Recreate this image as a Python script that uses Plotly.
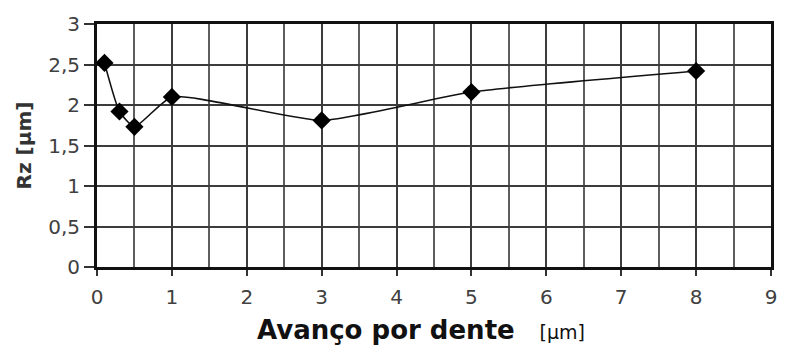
import plotly.graph_objects as go

# Feed per tooth [µm] vs roughness Rz [µm]
avanco = [0.1, 0.3, 0.5, 1, 3, 5, 8]
rz = [2.52, 1.92, 1.73, 2.10, 1.81, 2.16, 2.42]

x_ticks = [0, 1, 2, 3, 4, 5, 6, 7, 8, 9]
y_ticks = [0, 0.5, 1, 1.5, 2, 2.5, 3]

fig = go.Figure()

fig.add_trace(go.Scatter(
    x=avanco, y=rz, mode="lines+markers",
    line=dict(color="#111111", width=1.6, shape="spline", smoothing=0.5),
    marker=dict(symbol="diamond", size=14, color="#000000"),
    showlegend=False,
))

grid_col = "#3c3c3c"
tick_font = dict(family="DejaVu Sans, sans-serif", size=20, color="#404040")

fig.update_layout(
    width=785, height=349,
    margin=dict(l=97, r=8, t=24, b=82),
    paper_bgcolor="white", plot_bgcolor="white",
    separators=",.",
    font=dict(family="DejaVu Sans, sans-serif", color="#404040"),
    xaxis=dict(
        range=[0, 9], tickvals=x_ticks, ticks="outside", ticklen=6,
        tickcolor="#333333", tickwidth=2, ticklabelstandoff=4,
        showgrid=True, gridcolor=grid_col, gridwidth=2,
        minor=dict(dtick=0.5, showgrid=True, gridcolor="#5e5e5e", gridwidth=2),
        showline=True, linecolor="#111111", linewidth=3, mirror=True,
        zeroline=False, tickfont=tick_font,
    ),
    yaxis=dict(
        range=[0, 3], tickvals=y_ticks, ticks="outside", ticklen=10,
        tickcolor="#333333", tickwidth=2,
        showgrid=True, gridcolor=grid_col, gridwidth=2,
        showline=True, linecolor="#111111", linewidth=3, mirror=True,
        zeroline=False, tickfont=tick_font,
        title=dict(text="<b>Rz [µm]</b>",
                   font=dict(family="DejaVu Sans, sans-serif", size=20, color="#333333"),
                   standoff=12),
    ),
    annotations=[dict(
        text="<b>Avanço por dente</b>&nbsp;&nbsp;&nbsp;"
             "<span style='font-size:19px;font-weight:normal'>[µm]</span>",
        xref="paper", yref="paper", x=0.481, y=0,
        xanchor="center", yanchor="middle", yshift=-63,
        showarrow=False,
        font=dict(family="DejaVu Sans, sans-serif", size=26, color="#111111"),
    )],
)

fig.write_html("out.html")
